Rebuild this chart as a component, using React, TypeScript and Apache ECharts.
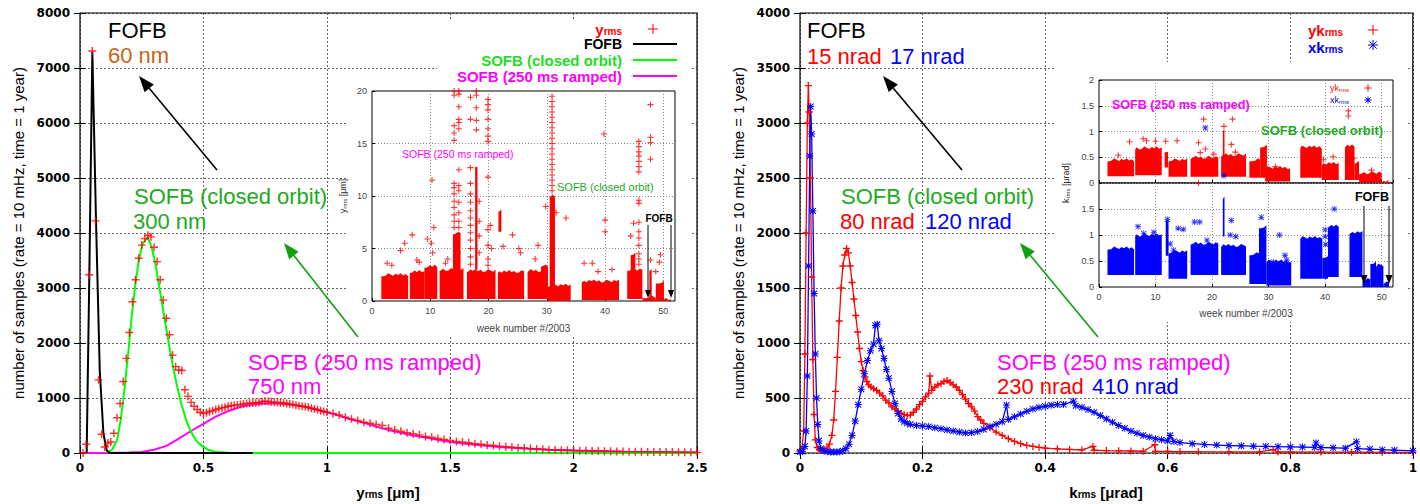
import React, { useEffect, useRef } from "react";
import * as echarts from "echarts";

const FONT = '"Liberation Sans", Arial, Helvetica, sans-serif';
const TICKFONT = '"DejaVu Sans", "Liberation Sans", sans-serif';

// ---------- Left panel: vertical orbit rms histogram ----------
const yrmsHist: [number, number][] = [
  [0.0125, 0], [0.025, 160], [0.0375, 3240], [0.05, 7310], [0.0625, 4220], [0.075, 1330], [0.0875, 340], [0.1, 110],
  [0.1125, 180], [0.125, 200], [0.1375, 360], [0.15, 640], [0.1625, 900], [0.175, 1300], [0.1875, 1720], [0.2, 2190],
  [0.2125, 2750], [0.225, 3150], [0.2375, 3540], [0.25, 3780], [0.2625, 3900], [0.275, 3960], [0.2875, 3930], [0.3, 3740],
  [0.3125, 3480], [0.325, 3150], [0.3375, 2780], [0.35, 2450], [0.3625, 2150], [0.375, 1780], [0.3875, 1570], [0.4, 1510],
  [0.4125, 1500], [0.425, 1150], [0.4375, 1030], [0.45, 920], [0.4625, 850], [0.475, 790], [0.4875, 740], [0.5, 720],
  [0.5125, 730], [0.525, 755], [0.5375, 770], [0.55, 790], [0.5625, 805], [0.575, 820], [0.5875, 830], [0.6, 850],
  [0.6125, 860], [0.625, 870], [0.6375, 875], [0.65, 880], [0.6625, 890], [0.675, 900], [0.6875, 905], [0.7, 910],
  [0.7125, 915], [0.725, 920], [0.7375, 935], [0.75, 940], [0.7625, 935], [0.775, 930], [0.7875, 925], [0.8, 920],
  [0.8125, 915], [0.825, 910], [0.8375, 900], [0.85, 890], [0.8625, 880], [0.875, 870], [0.8875, 860], [0.9, 850],
  [0.9125, 840], [0.925, 830], [0.9375, 815], [0.95, 800], [0.9625, 785], [0.975, 770], [0.9875, 755], [1.0, 740],
  [1.025, 720], [1.05, 690], [1.075, 650], [1.1, 620], [1.125, 590], [1.15, 560], [1.175, 540], [1.2, 520],
  [1.225, 500], [1.25, 450], [1.275, 420], [1.3, 395], [1.325, 370], [1.35, 350], [1.375, 330], [1.4, 300],
  [1.425, 285], [1.45, 265], [1.475, 245], [1.5, 230], [1.525, 210], [1.55, 200], [1.575, 185], [1.6, 170],
  [1.625, 160], [1.65, 145], [1.675, 135], [1.7, 125], [1.725, 115], [1.75, 105], [1.775, 95], [1.8, 90],
  [1.825, 80], [1.85, 75], [1.875, 70], [1.9, 60], [1.925, 55], [1.95, 50], [1.975, 50], [2.0, 45],
  [2.025, 42], [2.05, 40], [2.075, 38], [2.1, 35], [2.125, 32], [2.15, 30], [2.175, 28], [2.2, 26],
  [2.225, 25], [2.25, 24], [2.275, 22], [2.3, 20], [2.325, 20], [2.35, 18], [2.375, 17], [2.4, 16],
  [2.425, 15], [2.45, 14], [2.475, 12], [2.5, 10],
];
const fofbFit: [number, number][] = [
  [0.027, 0], [0.038, 3300], [0.05, 7300], [0.065, 4200], [0.08, 1500], [0.095, 350], [0.108, 50], [0.12, 0], [0.7, 0],
];
const sofbClosedFit: [number, number][] = [
  [0.11, 0], [0.13, 60], [0.15, 230], [0.165, 600], [0.18, 1150], [0.195, 1800], [0.21, 2500], [0.225, 3100],
  [0.24, 3550], [0.255, 3820], [0.275, 3920], [0.29, 3750], [0.305, 3450], [0.32, 3050], [0.335, 2650], [0.35, 2250],
  [0.365, 1850], [0.38, 1500], [0.395, 1180], [0.41, 900], [0.43, 600], [0.45, 380], [0.47, 230], [0.49, 140],
  [0.52, 60], [0.55, 20], [0.6, 5], [0.7, 0], [2.5, 0],
];
const sofbRampFit: [number, number][] = [
  [0.02, 0], [0.1, 0], [0.2, 8], [0.25, 20], [0.3, 60], [0.35, 130], [0.4, 260], [0.45, 400], [0.5, 530],
  [0.55, 660], [0.6, 760], [0.65, 840], [0.7, 880], [0.75, 900], [0.8, 900], [0.85, 880], [0.9, 850], [0.95, 800],
  [1.0, 740], [1.05, 680], [1.1, 610], [1.15, 550], [1.2, 480], [1.25, 420], [1.3, 370], [1.35, 320], [1.4, 280],
  [1.45, 240], [1.5, 200], [1.6, 150], [1.7, 110], [1.8, 80], [1.9, 60], [2.0, 45], [2.1, 35], [2.2, 25],
  [2.3, 20], [2.4, 15], [2.5, 10],
];

// Left inset: y_rms vs week (dense bands as [week0, week1, low, high], sparse points as [week, value])
const yInsetBands: [number, number, number, number][] = [
  [1.6, 6.2, 0.2, 2.5], [6.5, 9.0, 0.2, 2.8], [9.0, 11.2, 0.2, 3.3], [11.6, 15.7, 0.2, 3.0], [13.9, 15.2, 2.8, 6.5],
  [16.3, 21.2, 0.2, 2.9], [17.7, 18.1, 3.0, 12.9], [21.6, 26.1, 0.2, 2.8], [21.7, 22.2, 6.6, 8.6], [26.7, 29.0, 0.2, 2.9],
  [29.0, 30.2, 0.2, 3.4], [30.2, 34.1, 0.0, 1.5], [30.5, 31.4, 0.0, 10.0], [36.0, 42.4, 0.1, 1.9], [43.8, 46.4, 0.2, 3.0],
  [44.4, 45.2, 0.3, 4.5], [46.4, 48.7, 0.0, 0.4], [47.6, 48.0, 0.3, 3.0], [48.7, 50.1, 0.0, 1.8], [50.1, 51.3, 0.0, 0.25],
];
const yInsetPoints: [number, number][] = [
  [14.1, 7.0], [14.1, 7.6], [14.1, 8.2], [14.1, 8.9], [14.1, 9.5], [14.1, 10.2], [14.1, 10.8], [14.1, 11.2], [14.1, 15.3],
  [14.1, 16.0], [14.1, 16.7], [14.1, 19.6], [14.1, 20.0],
  [14.9, 7.0], [14.9, 7.6], [14.9, 8.4], [14.9, 9.4], [14.9, 10.5], [14.9, 11.0], [14.9, 12.5], [14.9, 16.4], [14.9, 17.0],
  [14.9, 17.3], [14.9, 18.5], [14.9, 19.7], [14.9, 20.0],
  [16.9, 3.5], [16.9, 4.2], [16.9, 5.0], [16.9, 5.8], [16.9, 6.5], [16.9, 7.2], [16.9, 7.9], [16.9, 8.6], [16.9, 9.4],
  [16.9, 10.2], [16.9, 11.2], [16.9, 12.7], [16.9, 17.3], [16.9, 19.4],
  [17.9, 16.3], [17.9, 17.2], [17.9, 18.4], [17.9, 19.6], [17.9, 20.0], [18.4, 4.6], [18.4, 6.2], [18.4, 7.6], [18.4, 9.5],
  [19.9, 3.4], [19.9, 4.0], [19.9, 5.3], [19.9, 6.8], [19.9, 11.8], [19.9, 15.2], [19.9, 15.7], [19.9, 16.4], [19.9, 17.3],
  [19.9, 18.2], [19.9, 18.7], [19.9, 19.2],
  [30.9, 10.5], [30.9, 11.0], [30.9, 11.5], [30.9, 12.0], [30.9, 12.5], [30.9, 13.0], [30.9, 13.5], [30.9, 14.0], [30.9, 14.5],
  [30.9, 15.0], [30.9, 15.5], [30.9, 16.0], [30.9, 16.5], [30.9, 17.0], [30.9, 17.5], [30.9, 18.0], [30.9, 18.5], [30.9, 19.0],
  [30.9, 19.5],
  [45.8, 3.5], [45.8, 4.0], [45.8, 4.5], [45.8, 5.3], [45.8, 6.0], [45.8, 6.6], [45.8, 7.5], [45.8, 9.3], [45.8, 9.6],
  [45.8, 12.3], [45.8, 12.8], [45.8, 13.3], [45.8, 13.8], [45.8, 14.2], [45.8, 14.7], [45.8, 15.2],
  [47.8, 13.5], [47.8, 15.1], [47.8, 15.6], [47.8, 18.7], [47.8, 3.9],
  [2.6, 3.6], [3.4, 3.4], [4.9, 4.8], [5.6, 5.5], [6.9, 6.3], [7.7, 3.9], [8.1, 3.7], [9.5, 5.9], [10.3, 11.5], [10.6, 7.0],
  [10.2, 5.5], [10.4, 4.6], [13.0, 4.0], [12.6, 3.6], [20.3, 7.2], [20.5, 5.0], [22.5, 5.2], [24.1, 6.3], [25.2, 5.0],
  [25.5, 4.6], [28.5, 5.3], [28.0, 4.0], [29.8, 9.0], [31.6, 8.4], [33.3, 7.9], [36.4, 3.6], [37.8, 3.6], [38.8, 2.8],
  [39.8, 15.9], [40.0, 6.6], [40.0, 7.7], [41.2, 3.0], [44.4, 6.2], [44.9, 7.4], [48.7, 2.8], [49.3, 3.7], [49.5, 4.4],
];

// ---------- Right panel: corrector kick rms histograms ----------
const ykHist: [number, number][] = [
  [0, 20], [0.003, 30], [0.006, 200], [0.008, 900], [0.01, 2000], [0.012, 3000], [0.0136, 3340], [0.015, 3100],
  [0.017, 2500], [0.019, 1600], [0.021, 850], [0.023, 350], [0.025, 120], [0.028, 50], [0.032, 30], [0.036, 25],
  [0.04, 30], [0.044, 45], [0.048, 80], [0.052, 160], [0.055, 300], [0.058, 560], [0.061, 870], [0.064, 1200],
  [0.067, 1500], [0.07, 1700], [0.073, 1800], [0.076, 1860], [0.079, 1820], [0.082, 1700], [0.085, 1550], [0.088, 1400],
  [0.091, 1250], [0.094, 1100], [0.097, 950], [0.1, 830], [0.103, 750], [0.106, 690], [0.109, 650], [0.112, 620],
  [0.116, 600], [0.12, 585], [0.125, 570], [0.13, 545], [0.135, 520], [0.14, 480], [0.145, 455], [0.15, 420],
  [0.155, 400], [0.16, 380], [0.165, 360], [0.17, 350], [0.175, 340], [0.18, 345], [0.185, 370], [0.19, 400],
  [0.195, 440], [0.2, 470], [0.205, 510], [0.21, 545], [0.212, 700], [0.215, 570], [0.22, 600], [0.225, 620],
  [0.23, 630], [0.235, 650], [0.24, 660], [0.245, 640], [0.25, 620], [0.255, 600], [0.26, 570], [0.265, 530],
  [0.27, 490], [0.275, 450], [0.28, 420], [0.285, 380], [0.29, 330], [0.295, 300], [0.3, 270], [0.31, 230],
  [0.32, 190], [0.33, 160], [0.34, 130], [0.35, 105], [0.36, 85], [0.37, 70], [0.38, 60], [0.39, 52], [0.4, 45],
  [0.42, 38], [0.44, 32], [0.46, 28], [0.478, 60], [0.48, 25], [0.5, 22], [0.52, 20], [0.54, 18], [0.56, 16],
  [0.579, 75], [0.58, 15], [0.6, 14], [0.62, 13], [0.65, 12], [0.7, 11], [0.75, 10], [0.772, 30], [0.78, 9],
  [0.8, 9], [0.85, 8], [0.9, 7], [0.95, 6], [1.0, 5],
];
const xkHist: [number, number][] = [
  [0, 10], [0.004, 15], [0.008, 60], [0.01, 200], [0.012, 700], [0.014, 1700], [0.016, 2700], [0.0174, 3150],
  [0.019, 2900], [0.021, 2200], [0.023, 1450], [0.025, 900], [0.027, 500], [0.029, 260], [0.031, 110], [0.034, 40],
  [0.038, 20], [0.045, 12], [0.05, 10], [0.055, 8], [0.06, 10], [0.065, 12], [0.07, 20], [0.075, 40], [0.08, 80],
  [0.085, 160], [0.09, 290], [0.095, 440], [0.1, 580], [0.105, 720], [0.11, 840], [0.115, 930], [0.12, 990],
  [0.123, 1160], [0.126, 1170], [0.129, 1020], [0.133, 950], [0.137, 860], [0.141, 760], [0.145, 680], [0.15, 560],
  [0.155, 450], [0.16, 360], [0.165, 310], [0.17, 285], [0.175, 270], [0.18, 260], [0.19, 250], [0.2, 245],
  [0.21, 240], [0.22, 230], [0.23, 220], [0.24, 210], [0.25, 200], [0.26, 190], [0.27, 182], [0.28, 185],
  [0.29, 195], [0.3, 215], [0.31, 240], [0.32, 262], [0.33, 285], [0.337, 436], [0.34, 305], [0.35, 330],
  [0.36, 355], [0.37, 380], [0.38, 400], [0.39, 415], [0.4, 425], [0.41, 435], [0.42, 440], [0.43, 442],
  [0.446, 470], [0.45, 430], [0.46, 415], [0.47, 395], [0.48, 370], [0.49, 340], [0.5, 310], [0.51, 280],
  [0.52, 250], [0.53, 225], [0.54, 200], [0.55, 180], [0.56, 160], [0.57, 145], [0.58, 130], [0.59, 120],
  [0.6, 110], [0.604, 160], [0.61, 105], [0.62, 95], [0.64, 85], [0.66, 78], [0.68, 72], [0.7, 68], [0.72, 65],
  [0.74, 62], [0.76, 60], [0.78, 58], [0.8, 56], [0.82, 54], [0.84, 52], [0.842, 92], [0.85, 50], [0.87, 47],
  [0.89, 44], [0.908, 103], [0.91, 40], [0.93, 35], [0.95, 30], [0.97, 26], [1.0, 20],
];

// Right inset: upper panel yk_rms, lower panel xk_rms vs week
const ykInsetBands: [number, number, number, number][] = [
  [1.5, 6.2, 0.13, 0.45], [6.4, 11.1, 0.15, 0.68], [11.6, 12.2, 0.3, 0.62], [12.3, 15.6, 0.12, 0.45],
  [16.2, 21.1, 0.12, 0.5], [21.6, 26.0, 0.12, 0.55], [21.9, 22.2, 0.45, 1.05], [26.6, 28.5, 0.1, 0.45],
  [28.5, 29.7, 0.1, 0.72], [29.4, 33.8, 0.03, 0.3], [35.6, 39.4, 0.1, 0.7], [39.4, 42.4, 0.06, 0.38],
  [43.5, 45.2, 0.06, 0.72], [45.2, 46.0, 0.06, 0.4], [46.0, 50.0, 0.01, 0.2], [50.0, 51.2, 0.0, 0.04],
];
const ykInsetPoints: [number, number][] = [
  [3.4, 0.54], [5.4, 0.8], [7.8, 0.86], [8.4, 0.82], [10, 0.81], [11.8, 0.81], [13.8, 0.82], [17.6, 0.78], [17.9, 0.59],
  [18.8, 0.66], [20.3, 0.56], [18.5, 1.24], [22.1, 1.1], [23.4, 0.75], [23.6, 1.24], [24.1, 0.6], [31.2, 0.32],
  [38.2, 0.64], [39.7, 0.45], [41.4, 0.51], [44.1, 1.4], [44.1, 1.3], [45, 0.48], [48.2, 0.25], [17.6, 0.0],
];
const xkInsetUpperPoints: [number, number][] = [[18.8, 1.07], [22.1, 0.14]];
const xkInsetBands: [number, number, number, number][] = [
  [1.5, 6.2, 0.23, 0.75], [6.4, 11.1, 0.23, 1.0], [11.8, 12.3, 0.6, 1.3], [12.3, 15.6, 0.16, 0.68],
  [16.2, 21.1, 0.23, 0.84], [21.9, 22.2, 0.97, 1.72], [21.6, 26.0, 0.23, 0.8], [26.6, 28.3, 0.06, 0.64],
  [28.3, 29.6, 0.06, 1.16], [29.6, 34.0, 0.03, 0.5], [35.6, 39.5, 0.16, 0.95], [39.5, 40.5, 0.16, 0.58],
  [40.5, 42.4, 0.19, 1.17], [44.3, 46.6, 0.19, 1.05], [46.6, 48.0, 0.0, 0.15], [48.0, 49.0, 0.0, 0.47],
  [49.0, 50.3, 0.0, 0.42], [50.3, 51.3, 0.0, 0.08],
];
const xkInsetPoints: [number, number][] = [
  [6.9, 1.16], [7.9, 1.03], [9.7, 1.05], [12.1, 1.3], [12.6, 0.83], [14, 1.13], [14.9, 1.11], [16.9, 1.25], [17.8, 1.25],
  [19.1, 0.9], [23.4, 1.28], [23.2, 1.0], [24.2, 0.97], [28.7, 1.34], [31.9, 1.0], [30.9, 0.48], [32.9, 0.61],
  [33.2, 0.52], [40, 1.1], [40, 0.97], [40.1, 0.82], [41.6, 1.5], [38.2, 0.77], [38.8, 0.58], [13.2, 0.71],
];

const mainXTicksLeft = { min: 0, max: 2.5, interval: 0.5 };
const mainYTicksLeft = { min: 0, max: 8000, interval: 1000 };
const mainXTicksRight = { min: 0, max: 1, interval: 0.2 };
const mainYTicksRight = { min: 0, max: 4000, interval: 500 };
const weekTicks = { min: 0, max: 52, interval: 10 };

const PLUS = "path://M4.1,0H5.9V4.1H10V5.9H5.9V10H4.1V5.9H0V4.1H4.1Z";
const STAR =
  "path://M4.3,0H5.7V10H4.3Z M0,4.3H10V5.7H0Z M1.3,0.3L9.7,8.7L8.7,9.7L0.3,1.3Z M8.7,0.3L9.7,1.3L1.3,9.7L0.3,8.7Z";

const RED = "#ff0000";
const BLUE = "#0000ff";
const MAG = "#ff00ff";
const GREEN_LINE = "#00ff00";
const GREEN_TXT = "#1eaa1e";

const fmt = (v: number) => String(Math.round(v * 1000) / 1000);

function txt(x: number, y: number, text: string, color: string, size: number, o: any = {}) {
  return {
    type: "text",
    x,
    y,
    z: 20,
    rotation: o.rotation || 0,
    style: {
      text,
      fill: color,
      fontSize: size,
      fontFamily: o.family || FONT,
      fontWeight: o.weight || "normal",
      align: o.align || "left",
      verticalAlign: "middle",
    },
  };
}

function subTxt(x: number, y: number, base: string, sub: string, tail: string, color: string, size: number, o: any = {}) {
  const w = o.weight || "normal";
  const ss = Math.round(size * 0.68);
  const text = `{a|${base}}{s|${sub}}` + (tail ? `{a|${tail}}` : "");
  return {
    type: "text",
    x,
    y,
    z: 20,
    rotation: o.rotation || 0,
    style: {
      text,
      fill: color,
      fontSize: size,
      fontFamily: FONT,
      fontWeight: w,
      align: o.align || "left",
      verticalAlign: "middle",
      rich: {
        a: { fontSize: size, fontFamily: FONT, fontWeight: w, fill: color, lineHeight: size, verticalAlign: "bottom" },
        s: {
          fontSize: ss,
          fontFamily: FONT,
          fontWeight: w,
          fill: color,
          lineHeight: ss,
          padding: [Math.round(size * 0.4), 0, 0, 0],
          verticalAlign: "bottom",
        },
      },
    },
  };
}

function arrow(x1: number, y1: number, x2: number, y2: number, color: string, w = 1.5, hl = 14, hw = 5) {
  const dx = x2 - x1;
  const dy = y2 - y1;
  const L = Math.hypot(dx, dy);
  const ux = dx / L;
  const uy = dy / L;
  const bx = x2 - ux * hl;
  const by = y2 - uy * hl;
  const nx = -uy;
  const ny = ux;
  return [
    { type: "line", z: 20, shape: { x1, y1, x2: bx, y2: by }, style: { stroke: color, lineWidth: w } },
    {
      type: "polygon",
      z: 20,
      shape: { points: [[x2, y2], [bx + nx * hw, by + ny * hw], [bx - nx * hw, by - ny * hw]] },
      style: { fill: color },
    },
  ];
}

function plusMark(cx: number, cy: number, r: number, color: string) {
  return [
    { type: "line", z: 20, shape: { x1: cx - r, y1: cy, x2: cx + r, y2: cy }, style: { stroke: color, lineWidth: 1 } },
    { type: "line", z: 20, shape: { x1: cx, y1: cy - r, x2: cx, y2: cy + r }, style: { stroke: color, lineWidth: 1 } },
  ];
}
function starMark(cx: number, cy: number, r: number, color: string) {
  const d = r * 0.75;
  return [
    ...plusMark(cx, cy, r, color),
    { type: "line", z: 20, shape: { x1: cx - d, y1: cy - d, x2: cx + d, y2: cy + d }, style: { stroke: color, lineWidth: 1 } },
    { type: "line", z: 20, shape: { x1: cx - d, y1: cy + d, x2: cx + d, y2: cy - d }, style: { stroke: color, lineWidth: 1 } },
  ];
}
function whiteBox(x: number, y: number, width: number, height: number) {
  return { type: "rect", z: 1, shape: { x, y, width, height }, style: { fill: "#ffffff" } };
}

const mainSplit = { show: true, lineStyle: { color: "#666", type: [2, 2], width: 1 } };
const insetSplit = { show: true, lineStyle: { color: "#888", type: [1, 2], width: 1 } };
const mainLabel = { color: "#000", fontFamily: TICKFONT, fontWeight: "bold", fontSize: 12, formatter: fmt };
const insetLabel = { color: "#444", fontFamily: FONT, fontSize: 9, formatter: fmt };

function mainAxis(grid: number, t: any, pos: string, isX: boolean, mirror: boolean) {
  return {
    gridIndex: grid,
    type: "value",
    position: pos,
    ...t,
    z: 0,
    axisLine: { show: false },
    axisTick: { show: true, inside: true, length: 6, lineStyle: { color: "#000", width: 1 } },
    axisLabel: mirror ? { show: false } : { ...mainLabel, margin: isX ? 9 : 10 },
    splitLine: mirror ? { show: false } : mainSplit,
  };
}
function insetAxis(grid: number, t: any, pos: string, o: any = {}) {
  return {
    gridIndex: grid,
    type: "value",
    position: pos,
    ...t,
    z: 3,
    axisLine: { show: false },
    axisTick: { show: true, inside: true, length: 3, lineStyle: { color: "#000" } },
    axisLabel: o.noLabel ? { show: false } : { ...insetLabel, margin: 5, showMaxLabel: o.showMax !== false },
    splitLine: insetSplit,
    ...(o.name
      ? { name: o.name, nameLocation: "middle", nameGap: o.nameGap, nameTextStyle: { color: "#444", fontFamily: FONT, fontSize: 10 } }
      : {}),
  };
}

// ragged top edge pattern (pixels) so that dense clouds of crosses don't look like flat boxes
const JAG = [0, 2.2, 0.8, 3, 1.2, 2.6, 0.4, 1.8, 2.9, 0.6];

function bandSeries(data: any, xi: number, yi: number, color: string) {
  return {
    type: "custom",
    xAxisIndex: xi,
    yAxisIndex: yi,
    z: 4,
    clip: true,
    encode: { x: [0, 1], y: [2, 3] },
    data,
    renderItem: (params: any, api: any) => {
      const p0 = api.coord([api.value(0), api.value(2)]);
      const p1 = api.coord([api.value(1), api.value(3)]);
      const xL = p0[0];
      const xR = p1[0];
      const yB = p0[1];
      const yT = p1[1];
      const pts: number[][] = [[xL, yB], [xR, yB]];
      let i = params.dataIndex;
      for (let x = xR; x > xL + 1; x -= 2.5) {
        pts.push([x, Math.min(yB, yT + 1.5 - JAG[i % JAG.length])]);
        i++;
      }
      pts.push([xL, Math.min(yB, yT + 1.5)]);
      return { type: "polygon", shape: { points: pts }, style: { fill: color } };
    },
  };
}
function pointSeries(data: any, xi: number, yi: number, color: string, symbol: string, size: number, z = 4) {
  return {
    type: "scatter",
    xAxisIndex: xi,
    yAxisIndex: yi,
    z,
    symbol,
    symbolSize: size,
    symbolKeepAspect: true,
    itemStyle: { color },
    data,
  };
}

export default function App() {
  const ref = useRef<HTMLDivElement>(null);
  useEffect(() => {
    if (!ref.current) return;
    const chart = echarts.init(ref.current, null, { renderer: "svg" });
    const graphics: any[] = [
      whiteBox(348, 82, 342, 253),
      whiteBox(437, 19, 253, 70),
      whiteBox(1055, 62, 351, 260),
      whiteBox(1300, 19, 106, 44),
      // main axis names
      txt(18, 233, "number of samples (rate = 10 mHz, time = 1 year)", "#000", 15, { rotation: Math.PI / 2, align: "center" }),
      txt(738, 233, "number of samples (rate = 10 mHz, time = 1 year)", "#000", 15, { rotation: Math.PI / 2, align: "center" }),
      subTxt(388, 492, "y", "rms", " [\u03bcm]", "#000", 15, { weight: "bold", align: "center" }),
      subTxt(1106, 492, "k", "rms", " [\u03bcrad]", "#000", 15, { weight: "bold", align: "center" }),
      // left annotations
      txt(108, 30, "FOFB", "#000", 22),
      txt(108, 55, "60 nm", "#c86414", 22),
      txt(134, 196, "SOFB (closed orbit)", GREEN_TXT, 22),
      txt(133, 221, "300 nm", GREEN_TXT, 22),
      txt(248, 362, "SOFB (250 ms ramped)", MAG, 22),
      txt(248, 386, "750 nm", MAG, 22),
      ...arrow(217, 170, 139, 76, "#000", 1.6, 16, 6),
      ...arrow(358, 337, 284, 243, "#10a010", 1.6, 16, 6),
      // left legend
      subTxt(622, 29, "y", "rms", "", RED, 15, { weight: "bold", align: "right" }),
      ...plusMark(653, 29, 5, RED),
      txt(622, 44, "FOFB", "#000", 14, { weight: "bold", align: "right" }),
      { type: "line", z: 20, shape: { x1: 633, y1: 44, x2: 677, y2: 44 }, style: { stroke: "#000", lineWidth: 2 } },
      txt(622, 60, "SOFB (closed orbit)", "#22dd22", 15, { weight: "bold", align: "right" }),
      { type: "line", z: 20, shape: { x1: 633, y1: 60, x2: 677, y2: 60 }, style: { stroke: GREEN_LINE, lineWidth: 2 } },
      txt(622, 76, "SOFB (250 ms ramped)", MAG, 15, { weight: "bold", align: "right" }),
      { type: "line", z: 20, shape: { x1: 633, y1: 76, x2: 677, y2: 76 }, style: { stroke: MAG, lineWidth: 2 } },
      // left inset annotations
      subTxt(343, 196, "y", "rms", " [\u03bcm]", "#333", 9, { rotation: Math.PI / 2, align: "center" }),
      txt(402, 154, "SOFB (250 ms ramped)", MAG, 10.5),
      txt(557, 187, "SOFB (closed orbit)", GREEN_TXT, 11),
      txt(659, 218, "FOFB", "#000", 10, { weight: "bold", align: "center" }),
      ...arrow(648, 225, 648, 298, "#000", 1, 8, 3),
      ...arrow(671, 225, 671, 298, "#000", 1, 8, 3),
      // right annotations
      txt(807, 30, "FOFB", "#000", 22),
      txt(807, 56, "15 nrad", RED, 22),
      txt(890, 56, "17 nrad", BLUE, 22),
      txt(841, 196, "SOFB (closed orbit)", GREEN_TXT, 22),
      txt(840, 221, "80 nrad", RED, 22),
      txt(925, 221, "120 nrad", BLUE, 22),
      txt(997, 362, "SOFB (250 ms ramped)", MAG, 22),
      txt(997, 386, "230 nrad", RED, 22),
      txt(1092, 386, "410 nrad", BLUE, 22),
      ...arrow(962, 170, 883, 76, "#000", 1.6, 16, 6),
      ...arrow(1098, 337, 1020, 243, "#10a010", 1.6, 16, 6),
      // right legend
      subTxt(1343, 30, "yk", "rms", "", RED, 15, { weight: "bold", align: "right" }),
      ...plusMark(1373, 30, 5, RED),
      subTxt(1343, 47, "xk", "rms", "", BLUE, 15, { weight: "bold", align: "right" }),
      ...starMark(1373, 45, 5, BLUE),
      // right inset annotations
      subTxt(1066, 183, "k", "rms", " [\u03bcrad]", "#333", 9, { rotation: Math.PI / 2, align: "center" }),
      subTxt(1349, 88, "yk", "rms", "", RED, 9, { align: "right" }),
      ...plusMark(1368, 88, 3.5, RED),
      subTxt(1349, 100, "xk", "rms", "", BLUE, 9, { align: "right" }),
      ...starMark(1368, 100, 3.5, BLUE),
      txt(1112, 105, "SOFB (250 ms ramped)", MAG, 12.5, { weight: "bold" }),
      txt(1261, 130, "SOFB (closed orbit)", GREEN_TXT, 13, { weight: "bold" }),
      txt(1372, 197, "FOFB", "#000", 12.5, { weight: "bold", align: "center" }),
      ...arrow(1364, 206, 1364, 284, "#000", 1, 9, 3.5),
      ...arrow(1389, 206, 1389, 284, "#000", 1, 9, 3.5),
    ];

    const option: any = {
      animation: false,
      backgroundColor: "#ffffff",
      grid: [
        { left: 80, top: 13, width: 617, height: 440, show: true, borderColor: "#000", borderWidth: 1.2, z: 2 },
        { left: 372, top: 91, width: 303, height: 210, show: true, borderColor: "#000", borderWidth: 1, z: 3 },
        { left: 800, top: 13, width: 613, height: 440, show: true, borderColor: "#000", borderWidth: 1.2, z: 2 },
        { left: 1099, top: 80, width: 294, height: 103, show: true, borderColor: "#000", borderWidth: 1, z: 3 },
        { left: 1099, top: 183, width: 294, height: 104, show: true, borderColor: "#000", borderWidth: 1, z: 3 },
      ],
      xAxis: [
        mainAxis(0, mainXTicksLeft, "bottom", true, false),
        mainAxis(0, mainXTicksLeft, "top", true, true),
        insetAxis(1, weekTicks, "bottom", { name: "week number #/2003", nameGap: 22, showMax: false }),
        mainAxis(2, mainXTicksRight, "bottom", true, false),
        mainAxis(2, mainXTicksRight, "top", true, true),
        insetAxis(3, weekTicks, "bottom", { noLabel: true }),
        insetAxis(4, weekTicks, "bottom", { name: "week number #/2003", nameGap: 21, showMax: false }),
      ],
      yAxis: [
        mainAxis(0, mainYTicksLeft, "left", false, false),
        mainAxis(0, mainYTicksLeft, "right", false, true),
        insetAxis(1, { min: 0, max: 20, interval: 5 }, "left"),
        mainAxis(2, mainYTicksRight, "left", false, false),
        mainAxis(2, mainYTicksRight, "right", false, true),
        insetAxis(3, { min: 0, max: 2, interval: 0.5 }, "left"),
        insetAxis(4, { min: 0, max: 2, interval: 0.5 }, "left", { showMax: false }),
      ],
      series: [
        // left main
        pointSeries(yrmsHist, 0, 0, RED, PLUS, 8, 2),
        { type: "line", xAxisIndex: 0, yAxisIndex: 0, z: 2, showSymbol: false, data: sofbRampFit, lineStyle: { color: MAG, width: 2 } },
        { type: "line", xAxisIndex: 0, yAxisIndex: 0, z: 2, showSymbol: false, data: sofbClosedFit, lineStyle: { color: GREEN_LINE, width: 2 } },
        { type: "line", xAxisIndex: 0, yAxisIndex: 0, z: 2, showSymbol: false, data: fofbFit, lineStyle: { color: "#000", width: 2 } },
        // left inset
        bandSeries(yInsetBands, 2, 2, RED),
        pointSeries(yInsetPoints, 2, 2, RED, PLUS, 6),
        // right main
        {
          type: "line", xAxisIndex: 3, yAxisIndex: 3, z: 2, data: ykHist, symbol: PLUS, symbolSize: 7, showSymbol: true,
          showAllSymbol: true, itemStyle: { color: RED }, lineStyle: { color: RED, width: 1.3 },
        },
        {
          type: "line", xAxisIndex: 3, yAxisIndex: 3, z: 2, data: xkHist, symbol: STAR, symbolSize: 7, showSymbol: true,
          showAllSymbol: true, itemStyle: { color: BLUE }, lineStyle: { color: BLUE, width: 1.3 },
        },
        // right inset
        bandSeries(ykInsetBands, 5, 5, RED),
        pointSeries(ykInsetPoints, 5, 5, RED, PLUS, 6),
        pointSeries(xkInsetUpperPoints, 5, 5, BLUE, STAR, 6),
        bandSeries(xkInsetBands, 6, 6, BLUE),
        pointSeries(xkInsetPoints, 6, 6, BLUE, STAR, 6),
      ],
      graphic: { elements: graphics },
    };
    chart.setOption(option);
    return () => chart.dispose();
  }, []);
  return <div ref={ref} style={{ position: "absolute", left: 0, top: 0, width: 1420, height: 504 }} />;
}
